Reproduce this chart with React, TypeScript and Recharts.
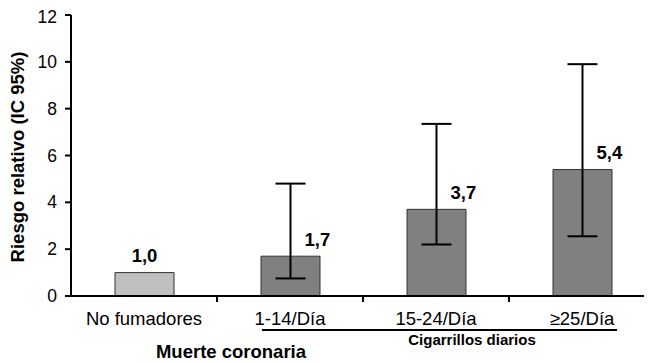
import React from "react";
import { BarChart, Bar, XAxis, YAxis, ErrorBar, LabelList, Cell } from "recharts";

const categories = ["No fumadores", "1-14/Día", "15-24/Día", "≥25/Día"];
const riesgo = [1.0, 1.7, 3.7, 5.4];
const icBajo: (number | null)[] = [null, 0.75, 2.2, 2.55];
const icAlto: (number | null)[] = [null, 4.8, 7.35, 9.9];
const yTicks = [0, 2, 4, 6, 8, 10, 12];
const barColors = ["#C0C0C0", "#808080", "#808080", "#808080"];

const data = categories.map((c, i) => ({
  name: c,
  rr: riesgo[i],
  err:
    icBajo[i] == null || icAlto[i] == null
      ? undefined
      : [riesgo[i] - (icBajo[i] as number), (icAlto[i] as number) - riesgo[i]],
}));

const FONT = "'Liberation Sans', Arial, sans-serif";

const XTick = (props: any) => {
  const { x, y, payload } = props;
  const left = payload.coordinate - payload.offset;
  return (
    <g>
      {payload.index > 0 && (
        <line x1={left} x2={left} y1={y - 6} y2={y} stroke="#000" strokeWidth={2} />
      )}
      <text x={x} y={y + 23} textAnchor="middle" fontSize={18.5} fill="#000" fontFamily={FONT}>
        {payload.value}
      </text>
    </g>
  );
};

const YTick = (props: any) => {
  const { x, y, payload } = props;
  return (
    <text x={x} y={y} dy={6} textAnchor="end" fontSize={17.5} fill="#000" fontFamily={FONT}>
      {payload.value}
    </text>
  );
};

const ValueLabel = (props: any) => {
  const { x, y, width, value, index } = props;
  const cx = x + width / 2;
  const txt = Number(value).toFixed(1).replace(".", ",");
  if (index === 0) {
    return (
      <text x={cx} y={y - 10.5} textAnchor="middle" fontSize={18.5} fontWeight="bold" fill="#000" fontFamily={FONT}>
        {txt}
      </text>
    );
  }
  return (
    <text x={cx + 14} y={y - 10.5} textAnchor="start" fontSize={18.5} fontWeight="bold" fill="#000" fontFamily={FONT}>
      {txt}
    </text>
  );
};

export default function App() {
  return (
    <div style={{ position: "relative", width: 652, height: 355, fontFamily: FONT }}>
      <BarChart
        width={652}
        height={355}
        data={data}
        margin={{ top: 7, right: 5, left: 0, bottom: 0 }}
      >
        <XAxis
          dataKey="name"
          height={67}
          stroke="#000"
          axisLine={{ stroke: "#000", strokeWidth: 2 }}
          tickLine={false}
          tickSize={6}
          tickMargin={0}
          interval={0}
          tick={<XTick />}
        />
        <YAxis
          width={63}
          domain={[0, 12]}
          ticks={yTicks}
          allowDataOverflow
          stroke="#000"
          axisLine={{ stroke: "#000", strokeWidth: 2 }}
          tickLine={{ stroke: "#000", strokeWidth: 2 }}
          tickSize={6}
          tickMargin={8}
          tick={<YTick />}
        />
        <Bar dataKey="rr" barSize={59} stroke="#333" strokeWidth={1} isAnimationActive={false}>
          {data.map((d, i) => (
            <Cell key={d.name} fill={barColors[i]} />
          ))}
          <ErrorBar dataKey="err" width={15} strokeWidth={2} stroke="#000" direction="y" />
          <LabelList dataKey="rr" content={<ValueLabel />} />
        </Bar>
      </BarChart>
      <svg
        width={652}
        height={355}
        style={{ position: "absolute", left: 0, top: 0, pointerEvents: "none" }}
      >
        <text
          transform="translate(16,149) rotate(-90)"
          textAnchor="middle"
          fontSize={18.5}
          fontWeight="bold"
          fill="#000"
          fontFamily={FONT}
        >
          Riesgo relativo (IC 95%)
        </text>
        <text x={223} y={350} textAnchor="middle" fontSize={18.5} fontWeight="bold" fill="#000" fontFamily={FONT}>
          Muerte coronaria
        </text>
        <line x1={254} x2={609} y1={322} y2={322} stroke="#000" strokeWidth={2} />
        <text x={464} y={337} textAnchor="middle" fontSize={15} fontWeight="bold" fill="#000" fontFamily={FONT}>
          Cigarrillos diarios
        </text>
      </svg>
    </div>
  );
}
